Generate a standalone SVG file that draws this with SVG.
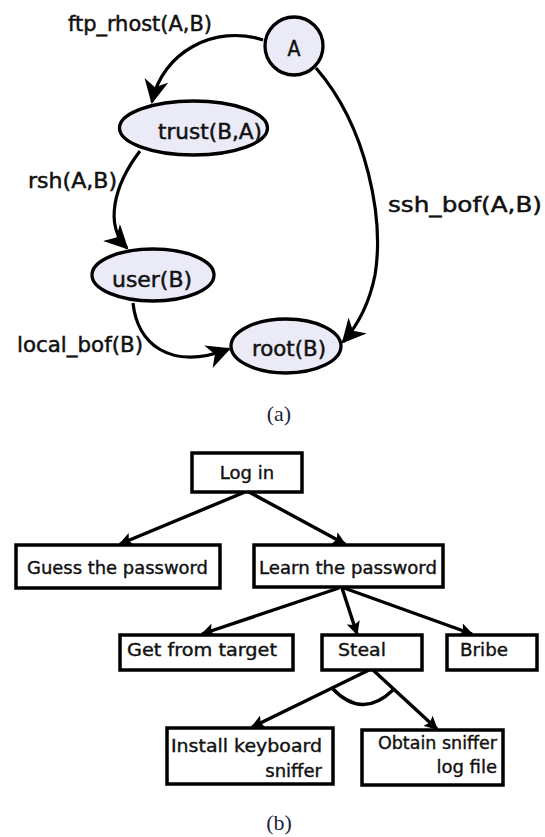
<svg xmlns="http://www.w3.org/2000/svg" width="545" height="837" viewBox="0 0 545 837">
<defs>
<style>
.n{fill:#ebebf8;stroke:#000;stroke-width:3.3}
.b{fill:#fff;stroke:#000;stroke-width:3.5}
.t{font-family:"DejaVu Sans Condensed","DejaVu Sans",sans-serif;font-size:21px;fill:#111;stroke:#111;stroke-width:0.45}
.tt{font-family:"DejaVu Sans",sans-serif;font-size:18px;fill:#111;stroke:#111;stroke-width:0.4}
.cap{font-family:"Liberation Serif",serif;font-size:22px;fill:#1e2440;text-anchor:middle}
.e{fill:none;stroke:#000;stroke-width:3.2}
.k{fill:none;stroke:#000;stroke-width:3.4}
</style>
<marker id="dart" viewBox="0 0 12 12" refX="11" refY="6" markerWidth="7.5" markerHeight="7.5" orient="auto" markerUnits="strokeWidth">
<path d="M0,0 L12,6 L0,12 L3.5,6 z" fill="#000"/>
</marker>
<marker id="tri" viewBox="0 0 10 10" refX="9" refY="5" markerWidth="4" markerHeight="4" orient="auto" markerUnits="strokeWidth">
<path d="M0,0 L10,5 L0,10 L2,5 z" fill="#000"/>
</marker>
</defs>
<rect width="545" height="837" fill="#fff"/>

<g id="edges-a">
<path class="e" d="M263,40 C215,24 162,52 152,102" marker-end="url(#dart)"/>
<path class="e" d="M140,151 C114,185 104,225 127,248" marker-end="url(#dart)"/>
<path class="e" d="M133,303 C137,342 168,372 229,349" marker-end="url(#dart)"/>
<path class="e" d="M316,68 C368,128 384,220 375,275 C369,305 358,325 343,342" marker-end="url(#dart)"/>
</g>
<g id="edge-labels-a">
<text class="t" x="68" y="31" textLength="144" lengthAdjust="spacingAndGlyphs">ftp_rhost(A,B)</text>
<text class="t" x="28" y="188" textLength="89" lengthAdjust="spacingAndGlyphs">rsh(A,B)</text>
<text class="t" x="388" y="212" textLength="154" lengthAdjust="spacingAndGlyphs">ssh_bof(A,B)</text>
<text class="t" x="17" y="352" textLength="126" lengthAdjust="spacingAndGlyphs">local_bof(B)</text>
</g>
<g id="node-A">
<circle class="n" cx="294" cy="46" r="29"/>
<text class="t" x="294" y="56" text-anchor="middle">A</text>
</g>
<g id="node-trust">
<ellipse class="n" cx="193.5" cy="128" rx="74" ry="27"/>
<text class="t" x="158" y="139" textLength="104" lengthAdjust="spacingAndGlyphs">trust(B,A)</text>
</g>
<g id="node-user">
<ellipse class="n" cx="153" cy="275" rx="61" ry="26"/>
<text class="t" x="112" y="287" textLength="80" lengthAdjust="spacingAndGlyphs">user(B)</text>
</g>
<g id="node-root">
<ellipse class="n" cx="286" cy="346" rx="55" ry="27"/>
<text class="t" x="252" y="356" textLength="74" lengthAdjust="spacingAndGlyphs">root(B)</text>
</g>
<text class="cap" x="279" y="421">(a)</text>

<g id="edges-b">
<line class="k" x1="245" y1="492" x2="120" y2="544" marker-end="url(#tri)"/>
<line class="k" x1="249" y1="492" x2="345" y2="544" marker-end="url(#tri)"/>
<line class="k" x1="339" y1="588" x2="202" y2="634" marker-end="url(#tri)"/>
<line class="k" x1="342" y1="588" x2="357" y2="634" marker-end="url(#tri)"/>
<line class="k" x1="344" y1="588" x2="472" y2="634" marker-end="url(#tri)"/>
<line class="k" x1="369" y1="670" x2="252" y2="727" marker-end="url(#tri)"/>
<line class="k" x1="373" y1="670" x2="437" y2="729" marker-end="url(#tri)"/>
<path class="k" d="M332,688 Q362,720 393,690"/>
</g>
<g id="node-login">
<rect class="b" x="192" y="453" width="110" height="39"/>
<text class="tt" x="247" y="479" text-anchor="middle">Log in</text>
</g>
<g id="node-guess">
<rect class="b" x="16" y="545" width="204" height="43"/>
<text class="tt" x="27" y="574" textLength="181" lengthAdjust="spacingAndGlyphs">Guess the password</text>
</g>
<g id="node-learn">
<rect class="b" x="254" y="545" width="189" height="42"/>
<text class="tt" x="259" y="574" textLength="178" lengthAdjust="spacingAndGlyphs">Learn the password</text>
</g>
<g id="node-get">
<rect class="b" x="120" y="635" width="173" height="35"/>
<text class="tt" x="127" y="656" textLength="150" lengthAdjust="spacingAndGlyphs">Get from target</text>
</g>
<g id="node-steal">
<rect class="b" x="322" y="635" width="100" height="35"/>
<text class="tt" x="338" y="656" textLength="48" lengthAdjust="spacingAndGlyphs">Steal</text>
</g>
<g id="node-bribe">
<rect class="b" x="447" y="635" width="90" height="35"/>
<text class="tt" x="460" y="656" textLength="48" lengthAdjust="spacingAndGlyphs">Bribe</text>
</g>
<g id="node-install">
<rect class="b" x="167" y="728" width="166" height="56"/>
<text class="tt" x="322" y="752" text-anchor="end" textLength="151" lengthAdjust="spacingAndGlyphs">Install keyboard</text>
<text class="tt" x="322" y="777" text-anchor="end">sniffer</text>
</g>
<g id="node-obtain">
<rect class="b" x="362" y="730" width="141" height="55"/>
<text class="tt" x="497" y="749" text-anchor="end" textLength="119" lengthAdjust="spacingAndGlyphs">Obtain sniffer</text>
<text class="tt" x="497" y="773" text-anchor="end">log file</text>
</g>
<text class="cap" x="279" y="830">(b)</text>
</svg>
